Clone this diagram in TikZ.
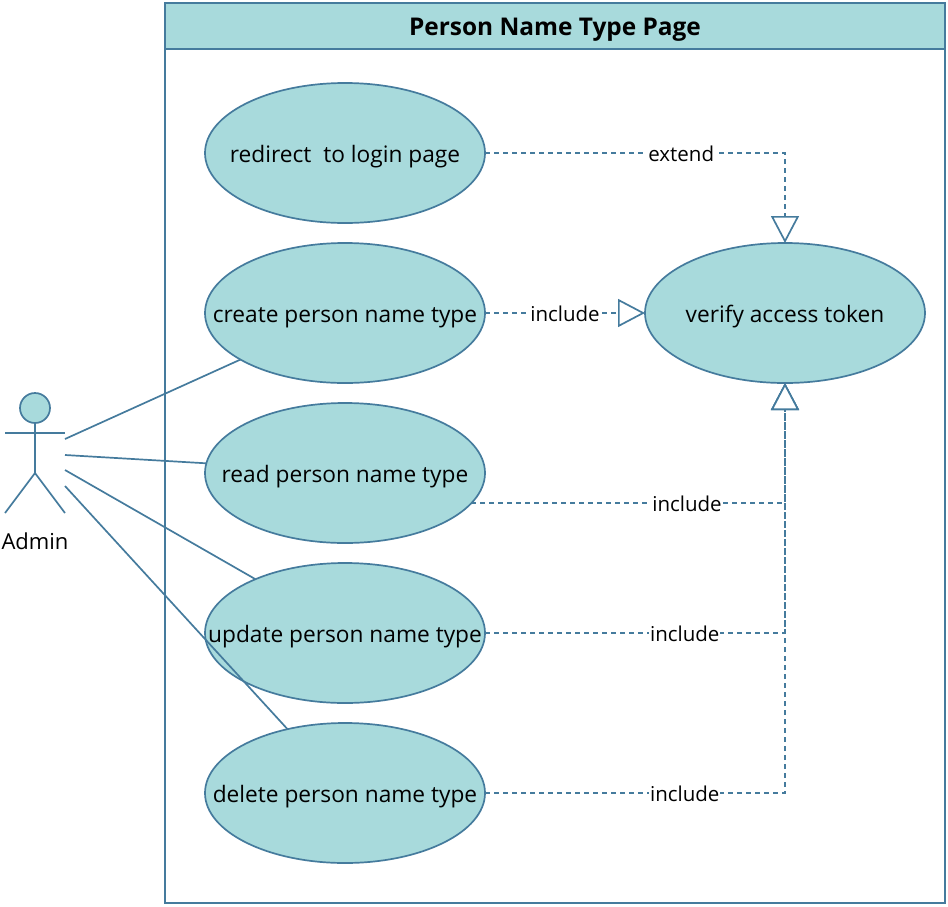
\documentclass[tikz,border=0pt]{standalone}
\usepackage{fontspec}
\setmainfont{Open Sans}
\definecolor{caseteal}{HTML}{A8DADC}
\definecolor{lineblue}{HTML}{457B9D}
\usetikzlibrary{shapes.geometric, arrows.meta, positioning}
\tikzset{
  usecase/.style={draw=lineblue, fill=caseteal, ellipse, line width=1.7pt, minimum width=280pt, minimum height=140pt, inner xsep=-50pt, inner ysep=0pt, outer sep=0pt, text height=18pt, text depth=0pt, font=\fontsize{22.7}{26}\selectfont},
  assoc/.style={draw=lineblue, line width=1.7pt},
  depend/.style={draw=lineblue, line width=1.5pt, dash pattern=on 5pt off 4pt, -{Triangle[open, fill=white, length=27pt, width=28pt, line width=1.7pt]}},
  deplabel/.style={fill=white, inner xsep=1pt, inner ysep=2pt, text height=17pt, text depth=0pt, font=\fontsize{20.5}{24}\selectfont, text=black}
}
\begin{document}
\begin{tikzpicture}[x=1pt, y=-1pt]
  \useasboundingbox (0, 0) rectangle (948, 906);

  % Page frame
  \node[draw=lineblue, line width=1.7pt, minimum width=780pt, minimum height=900pt, inner sep=0pt, outer sep=0pt, anchor=north west] (frame) at (165, 3) {};
  \node[draw=lineblue, fill=caseteal, line width=1.7pt, minimum width=780pt, minimum height=46pt, inner sep=0pt, outer sep=0pt, text height=19pt, text depth=0pt, anchor=north west, font=\fontsize{24.4}{28}\selectfont\bfseries] (header) at (165, 3) {Person Name Type Page};

  % Use cases
  \node[usecase] (redirect) at (345, 153) {redirect\ \ to login page};
  \node[usecase] (create) at (345, 313) {create person name type};
  \node[usecase] (read) at (345, 473) {read person name type};
  \node[usecase] (update) at (345, 633) {update person name type};
  \node[usecase] (delete) at (345, 793) {delete person name type};
  \node[usecase] (verify) at (785, 313) {verify access token};

  % Actor
  \node[circle, draw=lineblue, fill=caseteal, line width=1.7pt, minimum size=30pt, inner sep=0pt] (head) at (35, 408) {};
  \coordinate (hip) at (35, 473);
  \draw[assoc] (head) -- (hip);
  \draw[assoc] (5, 433) -- (65, 433);
  \draw[assoc] (5, 513) -- (hip) -- (65, 513);
  \node[font=\fontsize{22}{26}\selectfont] (admin) at (35, 541) {Admin};

  % Associations
  \coordinate (a1) at (65, 439);
  \coordinate (a2) at (65, 455);
  \coordinate (a3) at (65, 470);
  \coordinate (a4) at (65, 486);
  \draw[assoc] (a1) -- (create.204.7);
  \draw[assoc] (a2) -- (read.176);
  \draw[assoc] (a3) -- (update.149.6);
  \draw[assoc] (a4) -- (delete.132.6);

  % Dependencies
  \coordinate (readout) at (471, 503);
  \draw[depend] (redirect.east) -| node[deplabel, pos=0.327] (l1) {extend} (verify.north);
  \draw[depend] (create.east) -- node[deplabel, pos=0.5] (l2) {include} (verify.west);
  \draw[depend] (readout) -| node[deplabel, pos=0.344] (l3) {include} (verify.south);
  \draw[depend] (update.east) -| node[deplabel, pos=0.333] (l4) {include} (verify.south);
  \draw[depend] (delete.east) -| node[deplabel, pos=0.333] (l5) {include} (verify.south);
\end{tikzpicture}
\end{document}
